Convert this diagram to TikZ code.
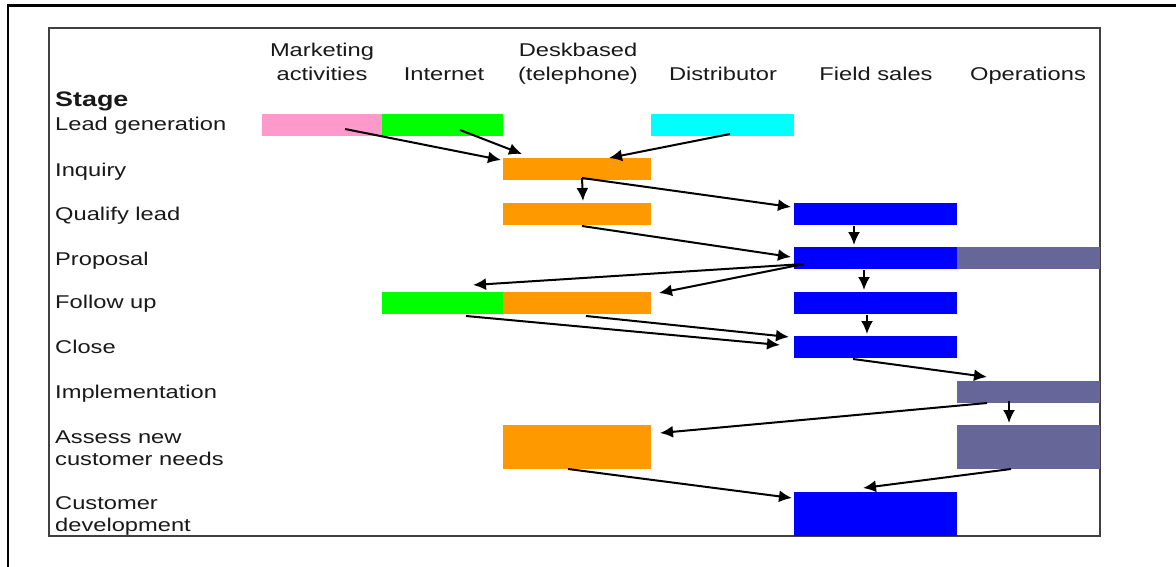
\documentclass[tikz,border=0pt]{standalone}
\usepackage{fontspec}
\setmainfont{Liberation Sans}
\usepackage{graphicx}
\usetikzlibrary{arrows.meta,calc}
\definecolor{cpink}{HTML}{FF99CC}
\definecolor{cgreen}{HTML}{00FF00}
\definecolor{ccyan}{HTML}{00FFFF}
\definecolor{corange}{HTML}{FF9900}
\definecolor{cblue}{HTML}{0000FF}
\definecolor{cops}{HTML}{666699}
\newcommand{\sx}[1]{\scalebox{1.28}[1]{#1}}
\tikzset{
  barbox/.style={rectangle, inner sep=0pt, outer sep=0pt, draw=none, anchor=north west},
  lbl/.style={inner sep=0pt, anchor=base west, text=black!90, font=\fontsize{18.5}{22}\selectfont},
  hdr/.style={inner sep=0pt, anchor=base, text=black!90, font=\fontsize{18.5}{22}\selectfont},
  conn/.style={line width=2pt, -{Latex[length=13pt,width=12pt]}},
}
\begin{document}
\begin{tikzpicture}[x=1pt,y=-1pt]
\useasboundingbox (0,0) rectangle (1176,567);
\fill[white] (0,0) rectangle (1176,567);
% outer frame (partially visible)
\draw[line width=2.6pt, black] (1176,5.5) -- (8,5.5) -- (8,567);
% inner frame
\draw[line width=2.2pt, black!75] (49,28) rectangle (1100,536);

% column headers
\node[hdr] (hM1) at (322,57) {\sx{Marketing}};
\node[hdr] (hM2) at (322,81) {\sx{activities}};
\node[hdr] (hI) at (444,81) {\sx{Internet}};
\node[hdr] (hD1) at (578,57) {\sx{Deskbased}};
\node[hdr] (hD2) at (578,81) {\sx{(telephone)}};
\node[hdr] (hDi) at (723,81) {\sx{Distributor}};
\node[hdr] (hF) at (876,81) {\sx{Field sales}};
\node[hdr] (hO) at (1028,81) {\sx{Operations}};

% row labels
\node[lbl, font=\fontsize{21}{24}\selectfont\bfseries] (stage) at (55,107) {\sx{Stage}};
\node[lbl] (r1) at (55,131) {\sx{Lead generation}};
\node[lbl] (r2) at (55,176) {\sx{Inquiry}};
\node[lbl] (r3) at (55,220) {\sx{Qualify lead}};
\node[lbl] (r4) at (55,265) {\sx{Proposal}};
\node[lbl] (r5) at (55,308) {\sx{Follow up}};
\node[lbl] (r6) at (55,353) {\sx{Close}};
\node[lbl] (r7) at (55,398) {\sx{Implementation}};
\node[lbl] (r8a) at (55,443) {\sx{Assess new}};
\node[lbl] (r8b) at (55,465) {\sx{customer needs}};
\node[lbl] (r9a) at (55,509) {\sx{Customer}};
\node[lbl] (r9b) at (55,531) {\sx{development}};

% bars
\node[barbox, fill=cpink, minimum width=120pt, minimum height=22pt] (pink) at (262,114) {};
\node[barbox, fill=cgreen, minimum width=121pt, minimum height=22pt] (grn1) at (382,114) {};
\node[barbox, fill=ccyan, minimum width=143pt, minimum height=22pt] (cyan) at (651,114) {};
\node[barbox, fill=corange, minimum width=148pt, minimum height=22pt] (inq) at (503,158) {};
\node[barbox, fill=corange, minimum width=148pt, minimum height=22pt] (qualO) at (503,203) {};
\node[barbox, fill=cblue, minimum width=163pt, minimum height=22pt] (qualB) at (794,203) {};
\node[barbox, fill=cblue, minimum width=163pt, minimum height=22pt] (propB) at (794,247) {};
\node[barbox, fill=cops, minimum width=143pt, minimum height=22pt] (propOp) at (957,247) {};
\node[barbox, fill=cgreen, minimum width=121pt, minimum height=22pt] (fuG) at (382,292) {};
\node[barbox, fill=corange, minimum width=148pt, minimum height=22pt] (fuO) at (503,292) {};
\node[barbox, fill=cblue, minimum width=163pt, minimum height=22pt] (fuB) at (794,292) {};
\node[barbox, fill=cblue, minimum width=163pt, minimum height=22pt] (closeB) at (794,336) {};
\node[barbox, fill=cops, minimum width=143pt, minimum height=22pt] (impl) at (957,381) {};
\node[barbox, fill=corange, minimum width=148pt, minimum height=44pt] (assO) at (503,425) {};
\node[barbox, fill=cops, minimum width=143pt, minimum height=44pt] (assOp) at (957,425) {};
\node[barbox, fill=cblue, minimum width=163pt, minimum height=44pt] (cdev) at (794,492) {};

% connectors
\draw[conn] ($(pink.north west)+(83,15)$) -- ($(inq.north west)+(-2,2)$);
\draw[conn] ($(grn1.north west)+(78,16)$) -- ($(inq.north west)+(19,-4)$);
\draw[conn] ($(cyan.north west)+(79,20)$) -- ($(inq.north west)+(106,0)$);
\draw[conn] ($(inq.north west)+(79,20)$) -- ($(qualO.north west)+(80,-2)$);
\draw[conn] ($(inq.north west)+(79,20)$) -- ($(qualB.north west)+(-3,4)$);
\draw[conn] ($(qualO.south west)+(79,1)$) -- ($(propB.north west)+(-3,10)$);
\draw[conn] ($(propB.north west)+(10,17)$) -- ($(fuG.north west)+(91,-7)$);
\draw[conn] ($(propB.north west)+(10,17)$) -- ($(fuO.north east)+(8,1)$);
\draw[conn] ($(fuG.south west)+(84,2)$) -- ($(closeB.north west)+(-14,9)$);
\draw[conn] ($(fuO.south west)+(83,2)$) -- ($(closeB.north west)+(-5,1)$);
\draw[conn] ($(qualB.south west)+(60,1)$) -- ($(propB.north west)+(60,-2)$);
\draw[conn] ($(propB.south west)+(70,1)$) -- ($(fuB.north west)+(70,-2)$);
\draw[conn] ($(fuB.south west)+(73,1)$) -- ($(closeB.north west)+(73,-2)$);
\draw[conn] ($(closeB.south west)+(59,1)$) -- ($(impl.north west)+(30,-4)$);
\draw[conn] ($(impl.south west)+(52,-2)$) -- ($(assOp.north west)+(52,-2)$);
\draw[conn] ($(impl.south west)+(30,0)$) -- ($(assO.north east)+(9,8)$);
\draw[conn] ($(assOp.south west)+(54,0)$) -- ($(cdev.north west)+(69,-4)$);
\draw[conn] ($(assO.south west)+(65,0)$) -- ($(cdev.north west)+(-2,6)$);
\end{tikzpicture}
\end{document}
